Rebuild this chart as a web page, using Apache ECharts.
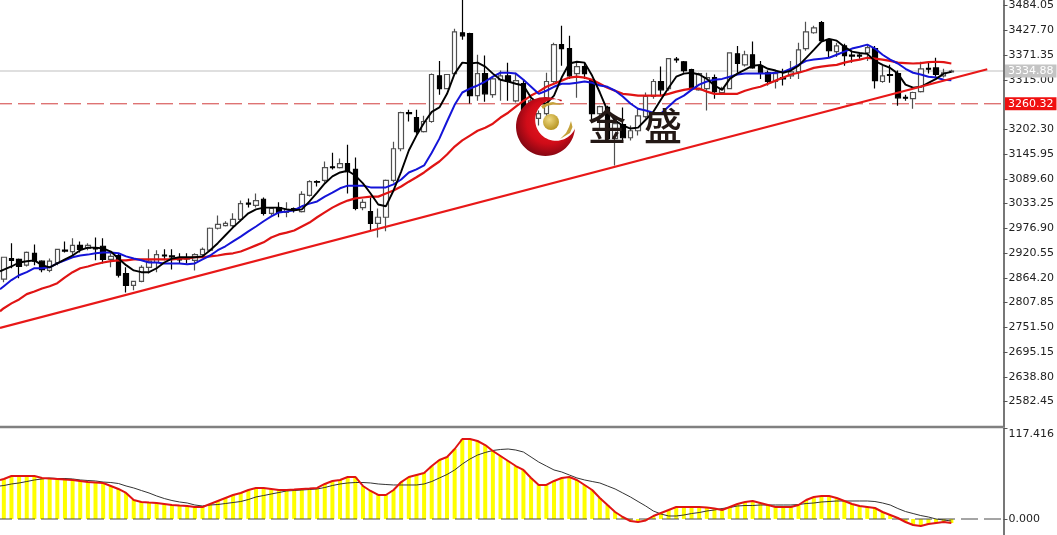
<!DOCTYPE html>
<html><head><meta charset="utf-8">
<style>html,body{margin:0;padding:0;background:#fff}#c{width:1057px;height:535px}</style>
<script src="https://cdn.jsdelivr.net/npm/echarts@6/dist/echarts.min.js"></script>
</head><body><div id="c"></div>
<script>
const opens=[2861,2908,2906,2893,2920,2902,2881,2899,2927,2924,
2938,2931,2931,2936,2906,2915,2874,2847,2856,2888,
2899,2916,2914,2907,2909,2904,2917,2927,2977,2983,
2983,2997,3034,3029,3043,3011,3024,3013,3022,3015,
3052,3083,3086,3117,3115,3124,3111,3024,3015,2988,
3002,3086,3158,3240,3229,3197,3220,3324,3295,3329,
3422,3420,3279,3329,3281,3315,3324,3267,3306,3233,
3227,3238,3311,3395,3386,3329,3345,3315,3238,3252,
3181,3213,3183,3199,3231,3277,3311,3295,3362,3356,
3338,3292,3295,3320,3286,3295,3374,3349,3372,3345,
3331,3311,3320,3324,3333,3386,3422,3445,3406,3379,
3392,3371,3371,3376,3386,3311,3327,3329,3275,3272,
3288,3341,3342,3324,3333];
const closes=[2911,2904,2890,2922,2902,2883,2902,2929,2925,2938,
2929,2938,2930,2906,2913,2870,2847,2856,2888,2902,
2917,2914,2912,2905,2907,2917,2929,2977,2986,2988,
2997,3033,3032,3040,3011,3022,3013,3020,3018,3054,
3083,3082,3115,3115,3124,3106,3022,3036,2988,3002,
3086,3158,3240,3238,3197,3220,3327,3295,3327,3424,
3415,3279,3329,3283,3317,3324,3311,3313,3238,3267,
3238,3311,3395,3386,3324,3345,3329,3238,3254,3181,
3215,3183,3199,3233,3277,3311,3292,3363,3360,3336,
3295,3329,3320,3288,3295,3376,3352,3372,3342,3331,
3311,3329,3317,3333,3383,3424,3433,3404,3381,3392,
3370,3369,3369,3388,3313,3324,3325,3274,3273,3286,
3340,3339,3327,3331,3335];
const lows=[2854,2886,2863,2890,2893,2877,2877,2893,2922,2915,
2922,2927,2904,2897,2888,2865,2831,2836,2854,2874,
2877,2904,2883,2897,2897,2881,2913,2924,2974,2981,
2979,2993,3024,3024,3006,3006,3002,3002,3013,3013,
3049,3072,3081,3111,3113,3056,3018,3018,2972,2956,
2970,3081,3152,3220,3192,3195,3217,3281,3295,3327,
3406,3261,3267,3265,3274,3267,3267,3263,3233,3229,
3211,3233,3308,3347,3317,3274,3317,3222,3199,3177,
3120,3177,3177,3188,3227,3272,3279,3290,3354,3331,
3290,3290,3245,3272,3283,3295,3331,3345,3340,3317,
3302,3295,3302,3317,3317,3381,3420,3402,3367,3367,
3347,3354,3363,3358,3295,3308,3308,3256,3267,3249,
3286,3329,3322,3320,3331];
const highs=[2911,2943,2908,2924,2940,2904,2908,2929,2947,2954,
2947,2943,2956,2954,2920,2920,2888,2856,2893,2929,
2927,2929,2929,2920,2920,2920,2933,2979,3006,2993,
3011,3040,3045,3056,3047,3024,3036,3036,3024,3061,
3086,3086,3129,3149,3136,3167,3138,3043,3047,3022,
3088,3174,3242,3247,3247,3233,3329,3358,3327,3431,
3505,3422,3372,3370,3320,3336,3354,3331,3317,3272,
3245,3331,3399,3438,3415,3354,3354,3317,3256,3256,
3222,3252,3211,3249,3286,3317,3345,3363,3367,3358,
3340,3331,3331,3327,3299,3376,3392,3381,3402,3358,
3336,3336,3340,3358,3399,3447,3438,3449,3408,3399,
3397,3381,3376,3395,3392,3347,3349,3336,3281,3288,
3356,3354,3365,3340,3338];
const maFast=[2883,2890,2899,2902,2904,2893,2888,2897,2906,2915,
2927,2933,2933,2931,2924,2908,2893,2881,2877,2877,
2886,2899,2908,2911,2911,2911,2913,2927,2943,2961,
2979,2995,3011,3020,3024,3024,3024,3020,3018,3020,
3038,3058,3079,3095,3104,3108,3097,3079,3056,3031,
3027,3063,3106,3154,3188,3217,3242,3252,3283,3329,
3354,3352,3354,3345,3329,3315,3311,3306,3302,3274,
3261,3261,3279,3320,3352,3356,3354,3324,3286,3245,
3222,3211,3204,3206,3224,3242,3270,3297,3322,3329,
3331,3327,3317,3302,3292,3317,3329,3338,3347,3349,
3340,3336,3331,3336,3347,3365,3383,3402,3408,3404,
3390,3379,3376,3374,3358,3349,3342,3329,3304,3297,
3299,3308,3317,3329,3333];
const maMid=[2845,2859,2870,2877,2886,2886,2888,2897,2904,2911,
2915,2917,2920,2922,2922,2920,2913,2908,2904,2899,
2899,2897,2897,2897,2895,2897,2906,2915,2927,2936,
2947,2958,2970,2981,2993,3004,3013,3015,3018,3027,
3033,3038,3049,3058,3068,3074,3074,3074,3070,3070,
3070,3077,3088,3104,3111,3120,3149,3181,3220,3258,
3286,3295,3302,3311,3322,3331,3331,3329,3315,3299,
3283,3290,3299,3306,3306,3308,3311,3308,3302,3299,
3290,3277,3261,3249,3245,3240,3238,3254,3270,3279,
3292,3304,3311,3315,3317,3322,3327,3329,3329,3329,
3329,3331,3333,3340,3349,3358,3361,3363,3365,3372,
3379,3386,3390,3395,3386,3372,3361,3352,3340,3331,
3327,3322,3320,3315,3314];
const maSlow=[2795,2806,2815,2827,2833,2840,2845,2852,2865,2877,
2886,2890,2895,2899,2902,2904,2904,2906,2906,2906,
2906,2906,2906,2908,2908,2911,2911,2913,2915,2918,
2920,2924,2931,2938,2945,2956,2963,2967,2972,2981,
2990,3002,3013,3024,3033,3040,3045,3047,3049,3049,
3056,3063,3072,3083,3093,3104,3117,3129,3145,3163,
3177,3188,3199,3206,3215,3229,3240,3254,3267,3279,
3288,3299,3306,3313,3320,3322,3320,3315,3306,3297,
3290,3283,3281,3279,3279,3279,3279,3283,3288,3292,
3295,3295,3288,3283,3283,3283,3283,3290,3295,3299,
3306,3313,3320,3327,3331,3336,3342,3345,3347,3349,
3354,3358,3361,3365,3363,3361,3358,3354,3353,3352,
3353,3355,3356,3355,3352];
const macd=[52,55.9,55.9,55.9,55.9,53.3,52.6,52,51.3,50.7,
49.4,48,47.4,46.8,42.9,39,33.8,24.7,22.1,21.4,
20.8,19.5,18.2,17.5,16.9,15.6,15.6,19.5,23.4,27.3,
31.2,33.8,37.7,40.3,40.3,39,37.7,37.7,38.3,39,
39.6,40.3,45.5,49.4,50.7,54.6,54.6,42.9,36.4,31.2,
31.2,37.7,48,54.6,57.2,59.8,68.8,76.6,80.5,90.9,
103.9,103.9,101.3,96.1,88.3,81.8,75.3,68.8,63.7,53.3,
44.2,44.2,49.4,53.3,54.6,50.7,44.2,37.7,27.3,18.2,
9.1,2.6,-2.6,-3.9,-1.9,3.9,7.8,11.7,15.6,15.6,
15.6,15.6,14.9,13.6,11.7,15.6,19.5,22.1,23.4,20.8,
18.2,15.6,15.6,15.6,18.2,24.7,28.6,29.9,29.9,27.3,
23.4,19.5,16.9,15.6,14.3,9.1,5.2,1.3,-3.9,-7.8,
-9.1,-6.5,-5.2,-3.9,-5.2];
const signal=[43.5,45.5,46.8,48.7,50.7,52,53.3,52.6,52.6,52,
50.7,50,49.4,48,47.4,46.1,42.9,40.3,37,33.8,
29.9,26.6,24,22.1,20.8,18.2,16.9,18.2,18.8,20.1,
21.4,22.7,25.3,28.6,30.5,32.5,34.4,36.4,37,37.7,
38.3,39,40.9,43.5,45.5,46.8,47.4,47.4,46.8,45.5,
44.8,44.2,44.2,44.2,44.2,45.5,48.7,53.3,57.8,63.7,
71.4,77.9,83.1,86.4,89,90.3,90.9,89.6,87,80.5,
74,68.8,63.7,61.1,57.2,53.3,50.7,48.7,46.8,42.9,
39,33.8,28.6,22.7,16.9,10.4,6.5,3.9,3.9,5.2,
7.1,8.4,10.4,11.7,13.6,14.9,16.9,17.5,17.5,18.2,
18.2,18.2,18.2,18.2,18.8,20.1,20.8,22.1,22.7,23.4,
23.4,23.4,23.4,23.4,22.7,20.8,18.2,13.6,9.7,7.1,
4.5,2.6,0,-1.3,-2.6];
const leadFast=2879, leadMid=2838, leadSlow=2788, leadMacd=50.7, leadSignal=42.9;
const priceTicks=[3484.05,3427.70,3371.35,3315.00,3202.30,3145.95,3089.60,3033.25,2976.90,2920.55,2864.20,2807.85,2751.50,2695.15,2638.80,2582.45];
const indicatorTicks=[0,117.416];
const trendX=[-0.5,128.7];
const trendY=[2750,3339];
const lastPrice=3334.88;
const linePrice=3260.32;
const logoText=['金','盛'];

const BANDS=131, XEND=130.83, PMIN=2524.6, PMAX=3494.7;
const categories=[]; for(let i=0;i<BANDS;i++) categories.push(String(i));
const font='"DejaVu Sans"';
const candles=opens.map((o,i)=>[o,closes[i],lows[i],highs[i]]);
const across=v=>[[-0.5,v],[XEND,v]];
const withLead=(lead,arr)=>[[-0.5,lead]].concat(arr.map((v,i)=>[i,v]));
const lineS=(name,lead,arr,color,width,z,xi,yi)=>({name,type:'line',xAxisIndex:xi,yAxisIndex:yi,data:withLead(lead,arr),symbol:'none',lineStyle:{color,width},z,silent:true});
const arc=(cx,cy,r,a0,a1)=>{const p=[];for(let k=0;k<=48;k++){const a=(a0+(a1-a0)*k/48)*Math.PI/180;p.push([cx+r*Math.cos(a),cy+r*Math.sin(a)]);}return p;};
const crescent=arc(545.5,126.5,29.5,-58,-357).concat(arc(556,120,20.8,23,287));

const chart=echarts.init(document.getElementById('c'),null,{renderer:'canvas'});
chart.setOption({
 animation:false,backgroundColor:'#fff',
 grid:[{left:-0.5,top:0,width:1002,height:427},{left:-0.5,top:428.6,width:1002,height:106.4}],
 xAxis:[
  {type:'category',gridIndex:0,data:categories,show:false},
  {type:'category',gridIndex:1,data:categories,show:false},
  {type:'value',gridIndex:0,min:-0.5,max:130.5,show:false},
  {type:'value',gridIndex:1,min:-0.5,max:130.5,show:false}
 ],
 yAxis:[
  {type:'value',gridIndex:0,position:'right',offset:2.5,min:PMIN,max:PMAX,splitLine:{show:false},
   axisLine:{show:true,onZero:false,lineStyle:{color:'#777',width:2}},
   axisTick:{show:true,length:4,lineStyle:{color:'#555'},customValues:priceTicks},
   axisLabel:{customValues:priceTicks,margin:5,color:'#222',fontFamily:font,fontSize:11,formatter:v=>v.toFixed(2)}},
  {type:'value',gridIndex:1,position:'right',offset:2.5,min:-20.78,max:117.416,splitLine:{show:false},
   axisLine:{show:true,onZero:false,lineStyle:{color:'#777',width:2}},
   axisTick:{show:true,length:4,lineStyle:{color:'#555'},customValues:indicatorTicks},
   axisLabel:{customValues:indicatorTicks,margin:5,color:'#222',fontFamily:font,fontSize:11,verticalAlignMaxLabel:'top',
     formatter:v=>v===0?'0.000':String(v)}}
 ],
 series:[
  {name:'last',type:'line',xAxisIndex:2,yAxisIndex:0,data:across(lastPrice),symbol:'none',clip:false,silent:true,z:1,
   lineStyle:{color:'#d4d4d4',width:1.5},
   endLabel:{show:true,distance:2,formatter:lastPrice.toFixed(2),color:'#fff',backgroundColor:'#c4c4c4',padding:[1,3,1,3],fontFamily:font,fontSize:11}},
  {name:'level',type:'line',xAxisIndex:2,yAxisIndex:0,data:across(linePrice),symbol:'none',clip:false,silent:true,z:1,
   lineStyle:{color:'#d23c3c',width:1,type:[17,6],dashOffset:5},
   endLabel:{show:true,distance:2,formatter:linePrice.toFixed(2),color:'#fff',backgroundColor:'#f01010',padding:[1,3,1,3],fontFamily:font,fontSize:11}},
  {name:'k',type:'candlestick',xAxisIndex:0,yAxisIndex:0,data:candles,barWidth:5,z:3,silent:true,
   itemStyle:{color:'#fff',color0:'#000',borderColor:'#505050',borderColor0:'#000',borderColorDoji:'#222',borderWidth:1.2}},
  lineS('maSlow',leadSlow,maSlow,'#e01414',2.2,4,2,0),
  lineS('maMid',leadMid,maMid,'#1414d8',2,5,2,0),
  lineS('maFast',leadFast,maFast,'#000',1.9,6,2,0),
  {name:'trend',type:'line',xAxisIndex:2,yAxisIndex:0,data:trendX.map((x,i)=>[x,trendY[i]]),symbol:'none',clip:false,silent:true,z:7,
   lineStyle:{color:'#e81818',width:2.2}},
  {name:'sep',type:'line',xAxisIndex:2,yAxisIndex:0,data:across(PMIN),symbol:'none',clip:false,silent:true,z:8,
   lineStyle:{color:'#808080',width:2.5}},
  {name:'hist',type:'bar',xAxisIndex:1,yAxisIndex:1,data:macd,barWidth:4,silent:true,z:2,itemStyle:{color:'#ffff00'}},
  {name:'zero',type:'line',xAxisIndex:3,yAxisIndex:1,data:across(0),symbol:'none',clip:false,silent:true,z:3,
   lineStyle:{color:'#4a4a4a',width:1,type:[17,6],dashOffset:5}},
  lineS('signal',leadSignal,signal,'#333',1,4,3,1),
  lineS('macd',leadMacd,macd,'#e01414',2,5,3,1)
 ],
 graphic:[
  {type:'polygon',z:100,silent:true,shape:{points:crescent},
   style:{fill:{type:'radial',x:0.55,y:0.42,r:0.62,colorStops:[{offset:0,color:'#f01c24'},{offset:0.6,color:'#d00c18'},{offset:1,color:'#7a0612'}]}}},
  {type:'circle',z:101,silent:true,shape:{cx:551,cy:122,r:8},
   style:{fill:{type:'radial',x:0.4,y:0.35,r:0.7,colorStops:[{offset:0,color:'#efd980'},{offset:1,color:'#b3901c'}]}}},
  {type:'polygon',z:101,silent:true,shape:{points:[[541,106],[547,103],[553,102],[563,105],[553,104.5],[547,106],[543,109]]},style:{fill:'#c5a23a'}},
  {type:'polygon',z:101,silent:true,shape:{points:[[571,121],[572.5,127],[570,133],[560,139],[566,133],[569,127]]},style:{fill:'#c5a23a'}},
  {type:'text',z:102,silent:true,style:{x:607,y:126,text:logoText[0],align:'center',verticalAlign:'middle',font:'500 38px "Noto Sans CJK SC"',fill:'#231815'}},
  {type:'text',z:102,silent:true,style:{x:663,y:126,text:logoText[1],align:'center',verticalAlign:'middle',font:'500 38px "Noto Sans CJK SC"',fill:'#231815'}}
 ]
});
</script></body></html>
